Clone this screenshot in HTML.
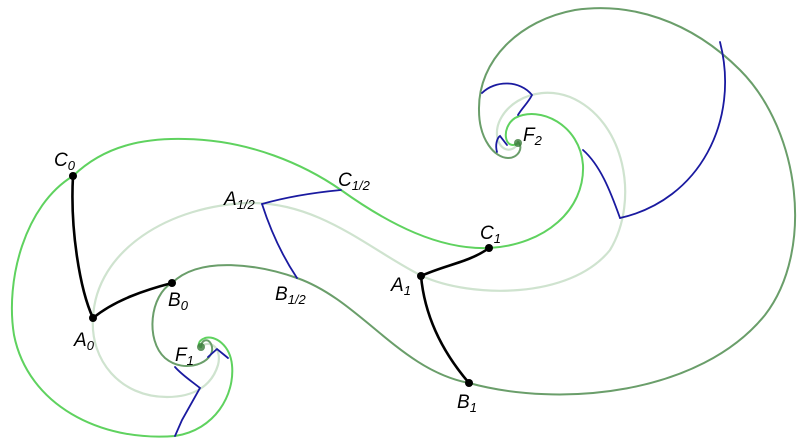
<!DOCTYPE html>
<html><head><meta charset="utf-8"><style>
html,body{margin:0;padding:0;background:#fff;}
svg{display:block;}
text{font-family:"Liberation Sans",sans-serif;font-style:italic;font-size:19px;fill:#000;}
.s{font-size:13px;}
</style></head><body>
<svg width="812" height="445" viewBox="0 0 812 445" xmlns="http://www.w3.org/2000/svg">
<g fill="none" stroke-linecap="round">
<!-- pale green (A) -->
<path stroke="#cfe3cf" stroke-width="2.2" d="M200,347 C212,338 222,350 218,365 C212,385 195,397 167,397 C120,397 90,360 93,318 C96,250 170,205 250,203 C320,202 370,250 422,276 C470,298 570,300 610,250 C640,200 625,120 570,97 C530,82 495,110 497,135 C498,150 512,155 518,143"/>
<!-- dark green (B) -->
<path stroke="#6a9e6a" stroke-width="2" d="M172,283 C150,295 145,340 165,358 C185,375 215,362 212,347 C210,337 201,339 201,347"/>
<path stroke="#6a9e6a" stroke-width="2" d="M172,283 C200,255 260,265 297,278 C360,300 400,370 469,383 C560,408 700,395 765,315 C815,250 800,130 740,70 C690,20 630,2 575,10 C520,20 478,60 479,110 C479,140 495,158 508,158 C518,158 524,148 518,142"/>
<!-- bright green (C) -->
<path stroke="#5fd25f" stroke-width="2" d="M73,176 C105,145 145,138 185,139 C250,140 305,165 341,190 C390,225 440,250 489,248 C545,245 585,210 583,165 C580,125 540,105 515,118 C500,128 505,152 518,143"/>
<path stroke="#5fd25f" stroke-width="2" d="M73,176 C25,205 5,280 14,335 C28,405 100,442 175,436 C215,430 235,395 232,365 C230,345 215,335 205,338 C197,341 198,347 201,347"/>
<!-- blue -->
<g stroke="#1a1aa0" stroke-width="1.8">
<path d="M262,204 C290,196 320,192 341,190"/>
<path d="M262,204 C272,235 285,260 297,278"/>
<path d="M620,218 C700,200 740,120 720,42"/>
<path d="M620,218 C610,190 600,165 583,150"/>
<path d="M482,93 C495,80 520,80 532,95 C528,103 522,108 518,115"/>
<path d="M497,152 C495,145 497,138 500,136 L507,145"/>
<path d="M175,436 L182,420 L200,388 C190,380 182,375 175,367"/>
<path d="M208,357 L217,349 L228,358"/>
</g>
<!-- black -->
<g stroke="#000" stroke-width="2.6">
<path d="M73,176 C70,230 80,290 93,318"/>
<path d="M93,318 C115,300 145,290 172,283"/>
<path d="M421,276 C445,265 470,262 489,248"/>
<path d="M421,276 C425,320 445,355 469,383"/>
</g>
</g>
<g fill="#000">
<circle cx="73" cy="176" r="4"/><circle cx="93" cy="318" r="4"/><circle cx="172" cy="283" r="4"/>
<circle cx="421" cy="276" r="4"/><circle cx="489" cy="248" r="4"/><circle cx="469" cy="383" r="4"/>
</g>
<circle cx="201" cy="347" r="4" fill="#3a7a3a" opacity="0.8"/>
<circle cx="518" cy="143" r="4" fill="#3a7a3a" opacity="0.8"/>
<text x="54" y="166">C<tspan class="s" dy="4">0</tspan></text>
<text x="74" y="346">A<tspan class="s" dy="4">0</tspan></text>
<text x="168" y="306">B<tspan class="s" dy="4">0</tspan></text>
<text x="175" y="361">F<tspan class="s" dy="4">1</tspan></text>
<text x="224" y="205">A<tspan class="s" dy="4">1/2</tspan></text>
<text x="338" y="186">C<tspan class="s" dy="4">1/2</tspan></text>
<text x="275" y="300">B<tspan class="s" dy="4">1/2</tspan></text>
<text x="391" y="291">A<tspan class="s" dy="4">1</tspan></text>
<text x="480" y="239">C<tspan class="s" dy="4">1</tspan></text>
<text x="457" y="408">B<tspan class="s" dy="4">1</tspan></text>
<text x="523" y="141">F<tspan class="s" dy="4">2</tspan></text>
</svg>
</body></html>
